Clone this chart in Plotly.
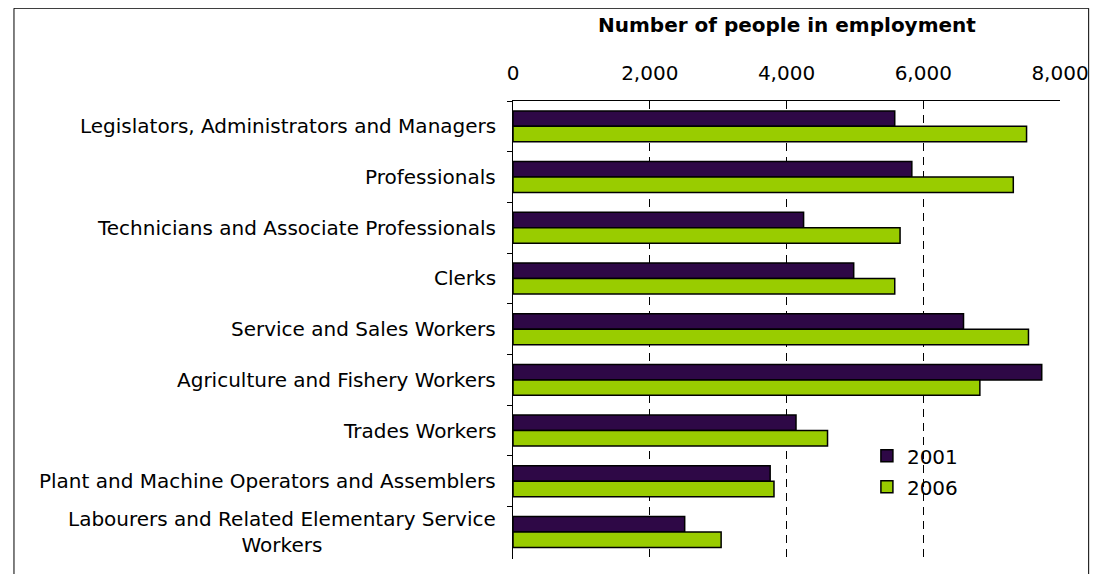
import plotly.graph_objects as go

categories = [
    "Legislators, Administrators and Managers",
    "Professionals",
    "Technicians and Associate Professionals",
    "Clerks",
    "Service and Sales Workers",
    "Agriculture and Fishery Workers",
    "Trades Workers",
    "Plant and Machine Operators and Assemblers",
    "Labourers and Related Elementary Service<br>Workers",
]
values_2001 = [5583, 5833, 4250, 4983, 6589, 7733, 4139, 3761, 2511]
values_2006 = [7511, 7317, 5661, 5583, 7539, 6828, 4600, 3817, 3044]
series_names = ["2001", "2006"]
tick_values = [0, 2000, 4000, 6000, 8000]
x_title = "Number of people in employment"

FONT = "DejaVu Sans"
FS = 20
colors = ["#2E0846", "#99CC00"]

fig = go.Figure()
for name, vals, col in zip(series_names, [values_2001, values_2006], colors):
    fig.add_trace(go.Bar(
        y=categories, x=vals, orientation="h", name=name,
        legendgroup=name,
        marker=dict(color=col, line=dict(color="#000000", width=1.5)),
    ))

fig.update_layout(
    width=1093, height=566,
    margin=dict(l=505, r=35, t=93, b=15),
    paper_bgcolor="white", plot_bgcolor="white",
    barmode="group", bargap=0.39, bargroupgap=0,
    font=dict(family=FONT, size=FS, color="#000000"),
    showlegend=True,
    legend=dict(
        x=0.647, y=0.268, xanchor="left", yanchor="top",
        font=dict(family=FONT, size=FS, color="#000000"),
        bgcolor="rgba(0,0,0,0)", traceorder="grouped", tracegroupgap=2,
    ),
)

fig.update_xaxes(
    side="top", range=[0, 8000], tickvals=tick_values, tickformat=",",
    showline=True, linecolor="#000000", linewidth=1,
    ticks="inside", ticklen=5, tickcolor="#000000",
    showgrid=True, gridcolor="#000000", griddash="8px,6px", gridwidth=1,
    zeroline=False, ticklabelstandoff=12,
    tickfont=dict(family=FONT, size=FS, color="#000000"),
)
fig.update_yaxes(
    type="category", autorange="reversed",
    showline=True, linecolor="#000000", linewidth=1,
    ticks="outside", ticklen=5, tickcolor="#000000", tickson="boundaries",
    showticklabels=False, showgrid=False, zeroline=False,
)

for cat in categories:
    fig.add_annotation(
        text=cat, xref="paper", x=0, xanchor="right", xshift=-15,
        yref="y", y=cat, yanchor="middle", align="center", showarrow=False,
        font=dict(family=FONT, size=FS, color="#000000"),
    )

fig.add_annotation(
    text="<b>" + x_title + "</b>", xref="paper", x=0.5, xanchor="center",
    yref="paper", y=1, yanchor="middle", yshift=76, showarrow=False,
    font=dict(family=FONT, size=FS, color="#000000"),
)

fig.add_shape(
    type="rect", xref="paper", yref="paper",
    x0=-0.9123, x1=1.0524, y0=-0.06, y1=1.2025,
    line=dict(color="#000000", width=1), fillcolor="rgba(0,0,0,0)", layer="below",
)

fig.write_html("out.html")
